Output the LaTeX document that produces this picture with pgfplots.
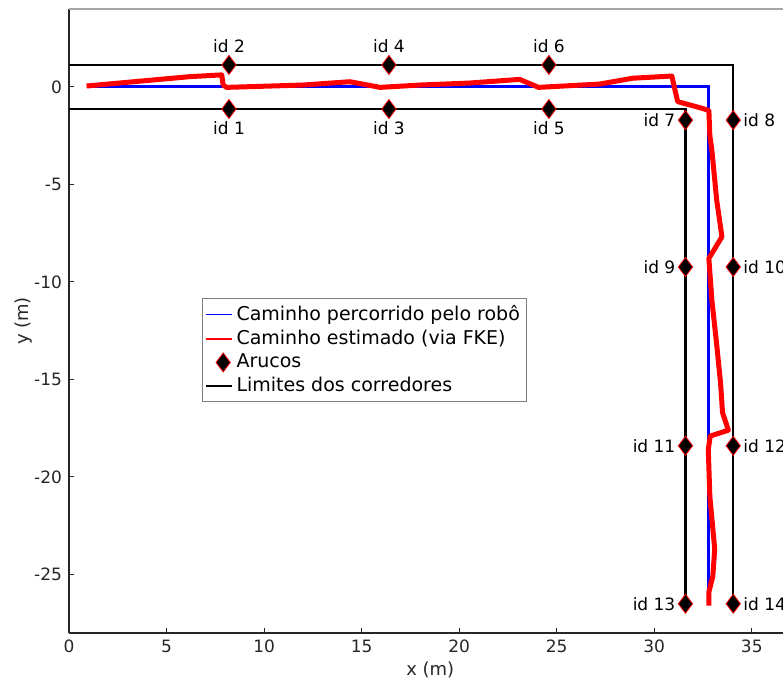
\documentclass[border=0pt]{standalone}
\usepackage{pgfplots}
\pgfplotsset{compat=1.18}
\usepackage{fontspec}
\setmainfont{DejaVu Sans}
\definecolor{axgray}{RGB}{38,38,38}
\begin{document}
\begin{tikzpicture}
\begin{axis}[
  name=ax,
  scale only axis,
  width=357pt, height=312pt,
  xmin=0, xmax=36.6, ymin=-28, ymax=4,
  axis x line*=bottom, axis y line*=left,
  axis line style={axgray, line width=0.6pt, -},
  xtick={0,5,...,35}, ytick={-25,-20,...,0},
  tick align=inside, major tick length=2.5pt,
  tick style={axgray, line width=0.5pt},
  /pgf/number format/assume math mode=true,
  ticklabel style={font=\fontsize{8.5}{10}\selectfont, text=axgray},
  xlabel={x (m)}, ylabel={y (m)},
  label style={font=\fontsize{9}{11}\selectfont, text=axgray},
  xlabel style={at={(ticklabel cs:0.506)}, yshift=2.5pt},
  ylabel shift=-6pt,
  legend style={at={(0.186,0.537)}, anchor=north west, draw=gray, line width=0.5pt,
    font=\fontsize{9.5}{12}\selectfont, row sep=-0.75pt, inner sep=1.5pt},
  legend cell align=left,
]
% corridor limits
\addplot[black, line width=1.2pt, forget plot] coordinates {(0,1.13) (34.05,1.13) (34.05,-26.5)};
\addplot[black, line width=1.2pt, forget plot] coordinates {(0,-1.13) (31.6,-1.13) (31.6,-26.5)};
% real path
\addplot[blue, line width=1.5pt,
  legend image code/.code={\draw[blue, line width=0.8pt] (0cm,0cm) -- (0.45cm,0cm);}]
  coordinates {(1.0,0) (32.8,0) (32.8,-26.5)};
\addlegendentry{Caminho percorrido pelo robô}
% estimated path
\addplot[red, line width=2.5pt, line join=round,
  legend image code/.code={\draw[red, line width=0.8pt] (0cm,0cm) -- (0.45cm,0cm);}]
  coordinates {
(0.9,0.05) (6.2,0.53) (7.83,0.62) (7.9,0.1) (8.08,-0.02)
(12,0.1) (14.4,0.27) (15.95,-0.02) (18,0.1) (20.5,0.2) (23.1,0.39) (24.07,-0.02)
(27.2,0.15) (28.9,0.45) (30.9,0.56) (31.2,-0.75) (32.4,-1.08) (32.8,-1.2)
(32.85,-2.5) (32.95,-3.2) (33.2,-5.8) (33.47,-7.68) (32.8,-8.79) (32.95,-10.9)
(33.2,-13.2) (33.4,-15.2) (33.5,-16.7) (33.8,-17.6) (32.87,-17.9) (32.77,-18.6)
(32.85,-21) (33.1,-23.7) (33.0,-25.1) (32.8,-25.9) (32.8,-26.6)};
\addlegendentry{Caminho estimado (via FKE)}
% arucos
\addplot[only marks, mark=diamond*, mark size=4.75pt,
  mark options={fill=black, draw=red, line width=0.4pt}]
  coordinates {
(8.2,-1.13) (8.2,1.13) (16.4,-1.13) (16.4,1.13) (24.6,-1.13) (24.6,1.13)
(31.6,-1.7) (34.05,-1.7) (31.6,-9.23) (34.05,-9.23) (31.6,-18.4) (34.05,-18.4)
(31.6,-26.5) (34.05,-26.5)};
\addlegendentry{Arucos}
\addlegendimage{legend image code/.code={\draw[black, line width=0.8pt] (0cm,0cm) -- (0.45cm,0cm);}}
\addlegendentry{Limites dos corredores}
% labels
\begin{scope}[every node/.style={font=\fontsize{8.5}{10}\selectfont, text=black, inner sep=0pt}]
\node[anchor=south] at (axis cs:8.2,1.75) {id 2};
\node[anchor=south] at (axis cs:16.4,1.75) {id 4};
\node[anchor=south] at (axis cs:24.6,1.75) {id 6};
\node[anchor=north] at (axis cs:8.2,-1.75) {id 1};
\node[anchor=north] at (axis cs:16.4,-1.75) {id 3};
\node[anchor=north] at (axis cs:24.6,-1.75) {id 5};
\node[anchor=east] at (axis cs:31.1,-1.7) {id 7};
\node[anchor=west] at (axis cs:34.55,-1.7) {id 8};
\node[anchor=east] at (axis cs:31.1,-9.23) {id 9};
\node[anchor=west] at (axis cs:34.55,-9.23) {id 10};
\node[anchor=east] at (axis cs:31.1,-18.4) {id 11};
\node[anchor=west] at (axis cs:34.55,-18.4) {id 12};
\node[anchor=east] at (axis cs:31.1,-26.5) {id 13};
\node[anchor=west] at (axis cs:34.55,-26.5) {id 14};
\end{scope}
\draw[gray!70, line width=0.6pt] (rel axis cs:0,1) -- (rel axis cs:1,1);
\end{axis}
\pgfresetboundingbox
\useasboundingbox ([xshift=-34.5pt,yshift=-24pt]ax.south west) rectangle ([yshift=4.5pt]ax.north east);
\end{tikzpicture}
\end{document}
